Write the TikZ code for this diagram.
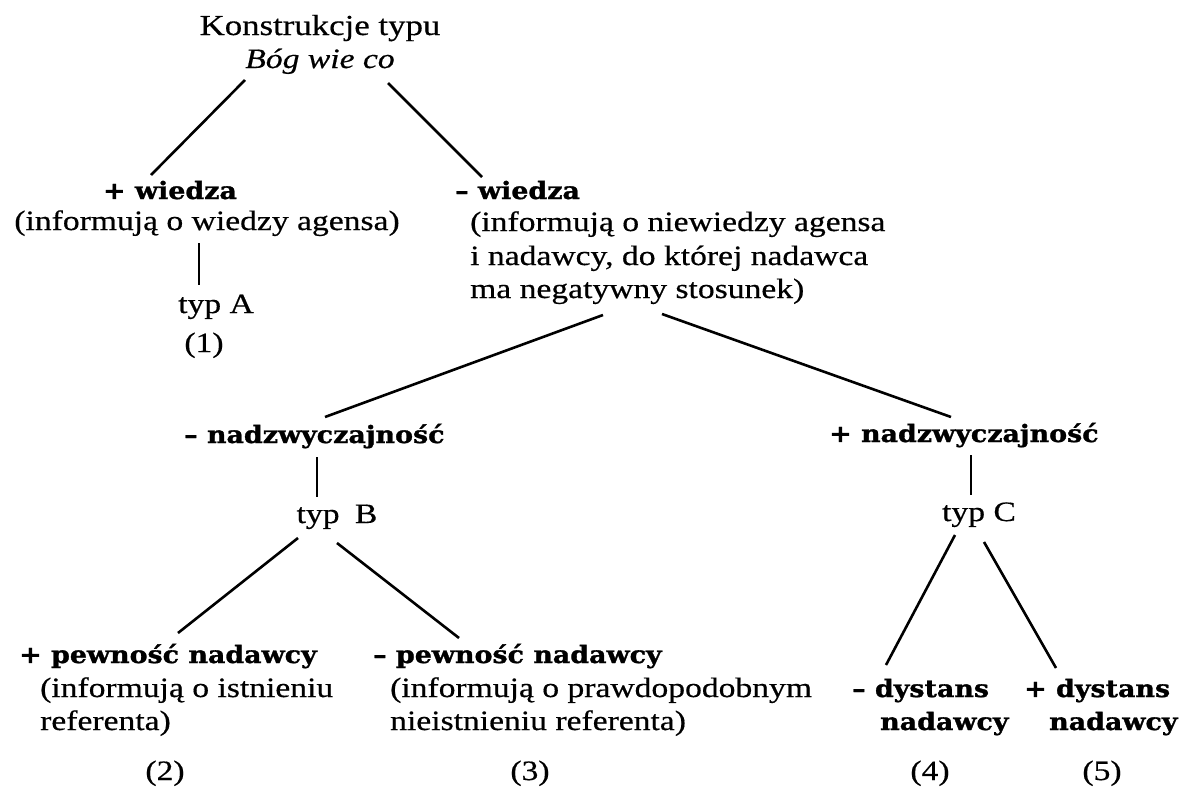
\documentclass[tikz,border=0pt]{standalone}
\usepackage{fontspec}
\setmainfont{Liberation Serif}[FakeStretch=1.2, FakeBold=0.5]
\newfontfamily\heavyfont{DejaVu Serif}[FakeStretch=1.12, FakeBold=1.2]
\usetikzlibrary{calc}
\begin{document}
\begin{tikzpicture}[x=1pt,y=-1pt,
  reg/.style={inner sep=0pt, font=\fontsize{28}{33}\selectfont},
  hvy/.style={inner sep=0pt, font=\fontsize{24}{30}\heavyfont\bfseries},
  ln/.style={line width=2.6pt}]
\useasboundingbox (0,0) rectangle (1184,787);
\fill[white] (0,0) rectangle (1184,787);

% title
\node[reg, anchor=base] (t1) at (320,35) {\fontsize{29}{33}\selectfont Konstrukcje typu};
\node[reg, anchor=base] (t2) at (320,68) {\textit{Bóg wie co}};

% + wiedza branch
\node[hvy, anchor=base] (wp) at (170,199) {+ wiedza};
\node[reg, anchor=base] (wpd) at (207,230) {(informują o wiedzy agensa)};
\node[reg, anchor=base] (ta) at (216,313) {typ A};
\node[reg, anchor=base] (n1) at (204,352) {(1)};

% - wiedza branch
\node[hvy, anchor=base west] (wm) at (455,199) {– wiedza};
\node[reg, anchor=base west] (wm1) at (470,231) {(informują o niewiedzy agensa};
\node[reg, anchor=base west] (wm2) at (470,265) {i nadawcy, do której nadawca};
\node[reg, anchor=base west] (wm3) at (470,298) {ma negatywny stosunek)};

% - nadzwyczajnosc
\node[hvy, anchor=base west] (nm) at (184,443) {– nadzwyczajność};
\node[reg, anchor=base] (tb) at (337,523) {typ\hspace{0.55em}B};
\node[hvy, anchor=base west] (pp) at (19,663) {+ pewność nadawcy};
\node[reg, anchor=base west] (pp1) at (40,697) {(informują o istnieniu};
\node[reg, anchor=base west] (pp2) at (40,730) {referenta)};
\node[hvy, anchor=base west] (pm) at (373,663) {– pewność nadawcy};
\node[reg, anchor=base west] (pm1) at (390,697) {(informują o prawdopodobnym};
\node[reg, anchor=base west] (pm2) at (390,730) {nieistnieniu referenta)};
\node[reg, anchor=base] (n2) at (165,780) {(2)};
\node[reg, anchor=base] (n3) at (530,780) {(3)};

% + nadzwyczajnosc
\node[hvy, anchor=base west] (np) at (829,442) {+ nadzwyczajność};
\node[reg, anchor=base] (tc) at (979,521) {typ C};
\node[hvy, anchor=base west] (dm) at (852,697) {– dystans};
\node[hvy, anchor=base west] (dm2) at (880,730) {nadawcy};
\node[hvy, anchor=base west] (dp) at (1024,697) {+ dystans};
\node[hvy, anchor=base west] (dp2) at (1049,730) {nadawcy};
\node[reg, anchor=base] (n4) at (930,780) {(4)};
\node[reg, anchor=base] (n5) at (1102,780) {(5)};

% connectors
\draw[ln] ($(t2.base)+(-75,12)$) -- ($(wp.base)+(-19,-24)$);
\draw[ln] ($(t2.base)+(68,15)$) -- ($(wm.base west)+(27,-22)$);
\draw[ln] ($(wpd.base)+(-8,13)$) -- ($(ta.base)+(-17,-28)$);
\draw[ln] ($(wm3.base west)+(133,17)$) -- ($(nm.base west)+(141,-26)$);
\draw[ln] ($(wm3.base west)+(192,16)$) -- ($(np.base west)+(122,-25)$);
\draw[ln] ($(nm.base west)+(133,14)$) -- ($(tb.base)+(-20,-26)$);
\draw[ln] ($(tb.base)+(-39,15)$) -- ($(pp.base west)+(159,-30)$);
\draw[ln] ($(tb.base)+(0,20)$) -- ($(pm.base west)+(86,-25)$);
\draw[ln] ($(np.base west)+(142,13)$) -- ($(tc.base)+(-8,-26)$);
\draw[ln] ($(tc.base)+(-24,14)$) -- ($(dm.base west)+(34,-32)$);
\draw[ln] ($(tc.base)+(5,21)$) -- ($(dp.base west)+(32,-29)$);
\end{tikzpicture}
\end{document}
